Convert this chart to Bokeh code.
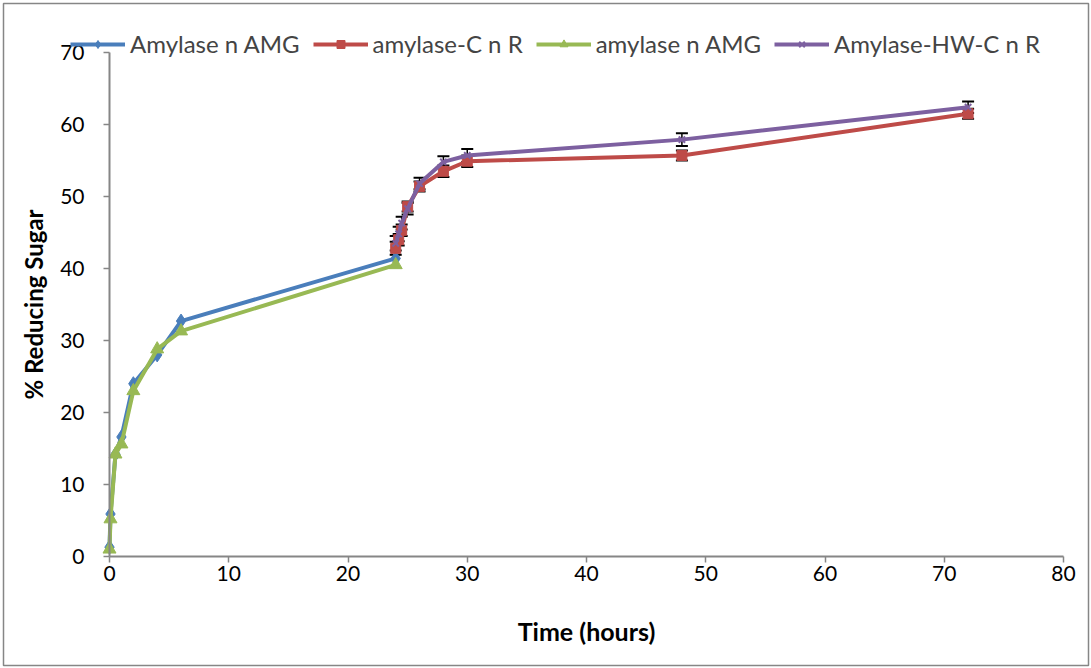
from bokeh.plotting import figure
from bokeh.models import Legend, LegendItem, Whisker, ColumnDataSource, FixedTicker
from bokeh.embed import file_html
from bokeh.resources import INLINE

# ---- data ----
time_amg = [0, 0.083, 0.5, 1, 2, 4, 6, 24]
amylase_amg = [1.3, 5.9, 14.2, 16.6, 24.0, 28.0, 32.7, 41.4]
amylase_amg_2 = [1.0, 5.2, 14.2, 15.6, 23.0, 28.8, 31.3, 40.5]

time_r = [24, 24.25, 24.5, 25, 26, 28, 30, 48, 72]
amylase_c_r = [42.8, 44.0, 45.3, 48.6, 51.4, 53.5, 54.9, 55.7, 61.5]
amylase_c_r_err = [0.9, 0.8, 0.8, 0.7, 0.7, 0.8, 0.8, 0.7, 0.7]
amylase_hw_c_r = [43.5, 44.8, 46.3, 48.3, 51.8, 54.8, 55.7, 57.9, 62.4]
amylase_hw_c_r_err = [1.0, 1.0, 0.9, 0.8, 0.8, 0.8, 0.9, 0.9, 0.8]

series_names = ["Amylase n AMG", "amylase-C n R", "amylase n AMG", "Amylase-HW-C n R"]
x_ticks = [0, 10, 20, 30, 40, 50, 60, 70, 80]
y_ticks = [0, 10, 20, 30, 40, 50, 60, 70]
x_axis_bounds = (0, 80)
y_axis_bounds = (0, 70)

FONT = "Lato"
AX = "#868686"

# frame spans the whole chart area (3px inset); the visible axes are pinned at x=0 / y=0
p = figure(width=1091, height=668,
           x_range=(-8.889, 82.096), y_range=(-15.139, 76.806),
           output_backend="svg", toolbar_location=None,
           min_border_left=3, min_border_right=3, min_border_top=3, min_border_bottom=3)
p.outline_line_color = AX
p.outline_line_width = 1.5
p.xgrid.visible = False
p.ygrid.visible = False

for ax in (p.xaxis[0], p.yaxis[0]):
    ax.fixed_location = 0
    ax.axis_line_color = AX
    ax.axis_line_width = 2
    ax.major_tick_line_color = AX
    ax.major_tick_line_width = 1.5
    ax.minor_tick_line_color = None
    ax.major_tick_in = 0
    ax.major_tick_out = 6
    ax.major_label_text_font = FONT
    ax.major_label_text_font_size = "21px"
    ax.major_label_text_color = "black"
    ax.axis_label_text_font = FONT
    ax.axis_label_text_font_style = "bold"
    ax.axis_label_text_color = "black"

p.xaxis[0].bounds = x_axis_bounds
p.yaxis[0].bounds = y_axis_bounds
p.xaxis[0].ticker = FixedTicker(ticks=x_ticks)
p.yaxis[0].ticker = FixedTicker(ticks=y_ticks)
p.xaxis[0].axis_label = "Time (hours)"
p.yaxis[0].axis_label = "% Reducing Sugar"
p.xaxis[0].axis_label_text_font_size = "25px"
p.yaxis[0].axis_label_text_font_size = "24px"
p.xaxis[0].major_label_standoff = 4
p.yaxis[0].major_label_standoff = 19
p.xaxis[0].axis_label_standoff = 31
p.yaxis[0].axis_label_standoff = 9

colors = ["#4A7EBB", "#BE4B48", "#98B954", "#7D60A0"]

# blue
l1 = p.line(time_amg, amylase_amg, line_color=colors[0], line_width=4)
m1 = p.scatter(time_amg, amylase_amg, marker="diamond", size=14, fill_color=colors[0], line_color=colors[0])

# red with error bars
src_r = ColumnDataSource(dict(x=time_r, y=amylase_c_r,
                              lo=[v - e for v, e in zip(amylase_c_r, amylase_c_r_err)],
                              hi=[v + e for v, e in zip(amylase_c_r, amylase_c_r_err)]))
l2 = p.line("x", "y", source=src_r, line_color=colors[1], line_width=4)
w2 = Whisker(base="x", lower="lo", upper="hi", source=src_r, line_color="black", line_width=1.5)
for h in (w2.upper_head, w2.lower_head):
    h.size = 12
    h.line_width = 2
p.add_layout(w2)
m2 = p.scatter("x", "y", source=src_r, marker="square", size=10, fill_color=colors[1], line_color=colors[1])

# green
l3 = p.line(time_amg, amylase_amg_2, line_color=colors[2], line_width=4)
m3 = p.scatter(time_amg, amylase_amg_2, marker="triangle", size=13, fill_color=colors[2], line_color=colors[2])

# purple with error bars
src_p = ColumnDataSource(dict(x=time_r, y=amylase_hw_c_r,
                              lo=[v - e for v, e in zip(amylase_hw_c_r, amylase_hw_c_r_err)],
                              hi=[v + e for v, e in zip(amylase_hw_c_r, amylase_hw_c_r_err)]))
l4 = p.line("x", "y", source=src_p, line_color=colors[3], line_width=4)
w4 = Whisker(base="x", lower="lo", upper="hi", source=src_p, line_color="black", line_width=1.5)
for h in (w4.upper_head, w4.lower_head):
    h.size = 12
    h.line_width = 2
p.add_layout(w4)
m4 = p.scatter("x", "y", source=src_p, marker="x", size=9, line_color=colors[3], line_width=2)

legend = Legend(items=[
    LegendItem(label=series_names[0], renderers=[l1, m1]),
    LegendItem(label=series_names[1], renderers=[l2, m2]),
    LegendItem(label=series_names[2], renderers=[l3, m3]),
    LegendItem(label=series_names[3], renderers=[l4, m4]),
], orientation="horizontal", location=(67, 607))
legend.border_line_color = None
legend.background_fill_alpha = 0
legend.label_text_font = FONT
legend.label_text_font_size = "24px"
legend.glyph_width = 55
legend.label_standoff = 5
legend.spacing = 13
legend.padding = 0
legend.margin = 0
p.add_layout(legend)

open("out.html", "w").write(file_html(p, INLINE))
